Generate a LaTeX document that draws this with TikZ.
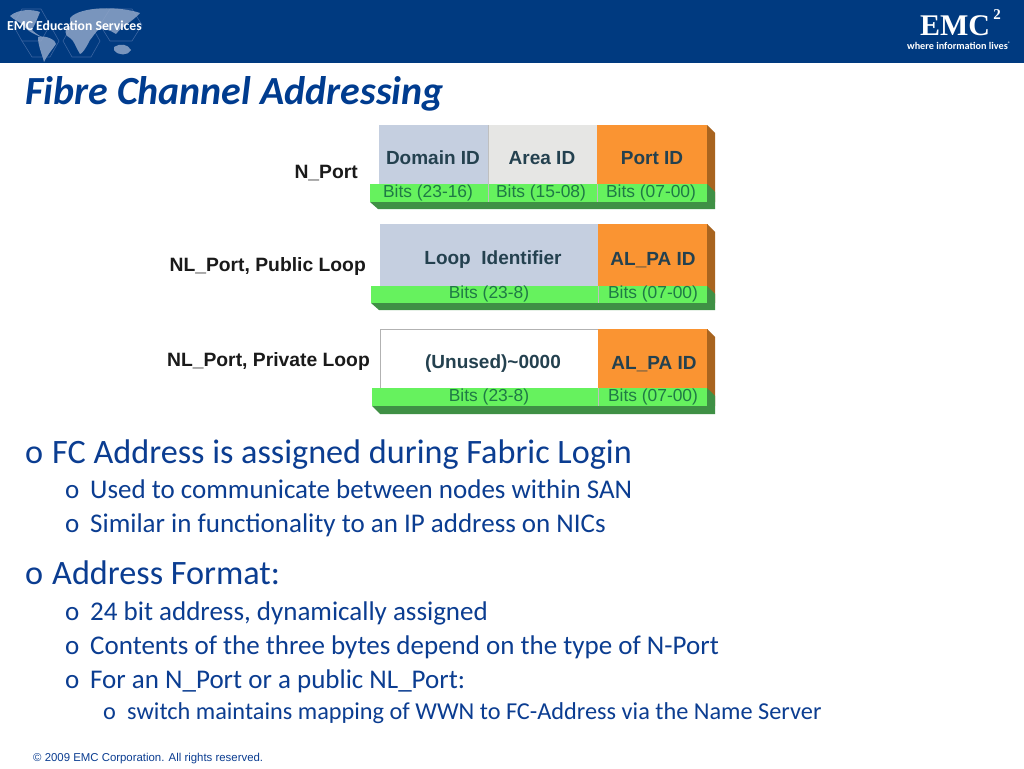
\documentclass[tikz,border=0pt]{standalone}
\usepackage{fontspec}
\setmainfont{Carlito}
\newfontfamily\arialf{Liberation Sans}
\definecolor{emcblue}{HTML}{003A80}
\definecolor{txtblue}{HTML}{0B3D91}
\definecolor{titleblue}{HTML}{003C8F}
\definecolor{fieldblue}{HTML}{C5CFE0}
\definecolor{fieldgrey}{HTML}{E6E6E4}
\definecolor{fieldor}{HTML}{FA9432}
\definecolor{darkor}{HTML}{A8641F}
\definecolor{fieldgr}{HTML}{66F25E}
\definecolor{darkgr}{HTML}{3F9045}
\definecolor{bitgr}{HTML}{1F7A45}
\definecolor{lblack}{HTML}{1A1A1A}
\definecolor{fieldtxt}{HTML}{24414F}
\definecolor{maplight}{HTML}{8FA5C8}
\definecolor{hexline}{HTML}{3A64A0}
\tikzset{
  x=1pt,y=-1pt,
  lvlone/.style={anchor=base west,inner sep=0pt,text=txtblue,font=\fontsize{34.2}{40}\selectfont},
  lvltwo/.style={anchor=base west,inner sep=0pt,text=txtblue,font=\fontsize{27}{32}\selectfont},
  lvlthree/.style={anchor=base west,inner sep=0pt,text=txtblue,font=\fontsize{24.3}{29}\selectfont},
  fieldlab/.style={inner sep=0pt,text=fieldtxt,font=\arialf\bfseries\fontsize{19}{23}\selectfont},
  bitlab/.style={inner sep=0pt,text=bitgr,font=\arialf\fontsize{17.4}{21}\selectfont},
  rowlab/.style={anchor=east,inner sep=0pt,text=lblack,font=\arialf\bfseries\fontsize{19.3}{23}\selectfont},
  sepline/.style={draw=black!25,line width=.6pt},
  landmass/.style={fill=maplight,opacity=.85},
  hexcell/.style={draw=hexline,line width=.6pt},
}
% #1 top, #2 bottom of field, #3 bottom of green, #4 bottom of shadow, #5 left
\newcommand{\barbase}[5]{%
  \fill[darkor] (707,#1) -- (715,#1+8) -- (715,#3) -- (707,#3) -- cycle;
  \fill[darkgr] (#5,#3) -- (#5+8,#4) -- (715,#4) -- (715,#2+8) -- (707,#2) -- (707,#3) -- cycle;
  \fill[fieldgr] (#5,#2) rectangle (707,#3);
}
\begin{document}
\begin{tikzpicture}
\useasboundingbox (0,0) rectangle (1024,768);
\fill[white] (0,0) rectangle (1024,768);
% header
\fill[emcblue] (0,0) rectangle (1024,63);
% world map
\draw[hexcell] (13,25) -- (22,9) -- (41,9) -- (50,25) -- (41,41) -- (22,41) -- cycle;
\draw[hexcell] (50,25) -- (59,41) -- (50,57) -- (32,57) -- (22,41);
\draw[hexcell] (63,41) -- (72,25) -- (91,25) -- (100,41) -- (91,57) -- (72,57) -- cycle;
\draw[hexcell] (100,25) -- (110,9) -- (132,9) -- (142,25) -- (132,41) -- (110,41) -- cycle;
\fill[landmass] (10,16) .. controls (18,9) and (32,9) .. (40,12) .. controls (37,20) and (34,26) .. (32,30) .. controls (36,34) and (40,36) .. (44,38) .. controls (38,36) and (28,32) .. (24,26) .. controls (20,22) and (14,20) .. (10,16) -- cycle;
\fill[landmass] (38,37) .. controls (46,35) and (56,40) .. (56,44) .. controls (52,50) and (48,54) .. (44,62) .. controls (42,54) and (38,46) .. (38,37) -- cycle;
\fill[landmass] (70,18) .. controls (80,6) and (120,6) .. (140,13) .. controls (132,22) and (122,26) .. (116,34) .. controls (110,30) and (104,28) .. (98,30) .. controls (94,34) and (92,38) .. (90,40) .. controls (86,48) and (82,54) .. (80,54) .. controls (76,48) and (74,40) .. (70,38) .. controls (64,36) and (64,28) .. (70,26) -- cycle;
\fill[landmass] (114,47) .. controls (120,43) and (128,44) .. (131,50) .. controls (128,56) and (118,56) .. (114,50) -- cycle;
\node[anchor=west,inner sep=0pt,text=white,font=\bfseries\fontsize{13.7}{16}\selectfont] (edu) at (7,26) {EMC Education Services};
\node[inner sep=0pt,text=white,font=\fontspec{Liberation Serif}\bfseries\fontsize{30}{34}\selectfont] (emc) at (955,26) {EMC};
\node[inner sep=0pt,text=white,font=\fontspec{Liberation Serif}\bfseries\fontsize{15}{17}\selectfont] (sq) at (997,15) {2};
\node[inner sep=0pt,text=white,font=\bfseries\fontsize{10.2}{12}\selectfont] (tag) at (959,46) {where information lives\textsuperscript{\tiny ®}};
% title
\node[anchor=base west,inner sep=0pt,text=titleblue,font=\bfseries\itshape\fontsize{39.9}{46}\selectfont] (title) at (25,104) {Fibre Channel Addressing};
% row 1
\fill[fieldblue] (379,125) rectangle (488,184);
\fill[fieldgrey] (488,125) rectangle (597,184);
\fill[fieldor] (597,125) rectangle (707,184);
\barbase{125}{184}{202}{209}{370}
\draw[sepline] (488,125) -- (488,202);
\draw[sepline] (597,184) -- (597,202);
\node[fieldlab] (f11) at (433,158) {Domain ID};
\node[fieldlab] (f12) at (542,158) {Area ID};
\node[fieldlab] (f13) at (652,158) {Port ID};
\node[bitlab] (b11) at (428,193) {Bits (23-16)};
\node[bitlab] (b12) at (541,193) {Bits (15-08)};
\node[bitlab] (b13) at (651,193) {Bits (07-00)};
\node[rowlab] (r1) at (358,173.5) {N\_Port};
% row 2
\fill[fieldblue] (380,224) rectangle (598,286);
\fill[fieldor] (598,224) rectangle (708,286);
\barbase{224}{286}{303}{310}{371}
\draw[sepline] (598,286) -- (598,303);
\node[fieldlab] (f21) at (493,260) {Loop~ Identifier};
\node[fieldlab] (f22) at (653,260) {AL\_PA ID};
\node[bitlab] (b21) at (489,294) {Bits (23-8)};
\node[bitlab] (b22) at (653,294) {Bits (07-00)};
\node[rowlab] (r2) at (366,266.5) {NL\_Port, Public Loop};
% row 3
\draw[draw=black!30,fill=white,line width=.6pt] (380,329) rectangle (598,388);
\fill[fieldor] (598,329) rectangle (708,388);
\barbase{329}{388}{406}{414}{372}
\draw[sepline] (598,388) -- (598,406);
\node[fieldlab,text=fieldtxt] (f31) at (493,364) {(Unused)\textasciitilde0000};
\node[fieldlab] (f32) at (654,364) {AL\_PA ID};
\node[bitlab] (b31) at (489,397) {Bits (23-8)};
\node[bitlab] (b32) at (653,397) {Bits (07-00)};
\node[rowlab] (r3) at (370,361.5) {NL\_Port, Private Loop};
% bullets
\node[lvlone] (m1) at (25,463) {o};
\node[lvlone] (t1) at (52,463) {FC Address is assigned during Fabric Login};
\node[lvltwo] (m2) at (65,498.5) {o};
\node[lvltwo] (t2) at (90,498.5) {Used to communicate between nodes within SAN};
\node[lvltwo] (m3) at (65,532.5) {o};
\node[lvltwo] (t3) at (90,532.5) {Similar in functionality to an IP address on NICs};
\node[lvlone] (m4) at (25,584.5) {o};
\node[lvlone] (t4) at (52,584.5) {Address Format:};
\node[lvltwo] (m5) at (65,620.5) {o};
\node[lvltwo] (t5) at (90,620.5) {24 bit address, dynamically assigned};
\node[lvltwo] (m6) at (65,654.5) {o};
\node[lvltwo] (t6) at (90,654.5) {Contents of the three bytes depend on the type of N-Port};
\node[lvltwo] (m7) at (65,688.5) {o};
\node[lvltwo] (t7) at (90,688.5) {For an N\_Port or a public NL\_Port:};
\node[lvlthree] (m8) at (103,719.5) {o};
\node[lvlthree] (t8) at (127,719.5) {switch maintains mapping of WWN to FC-Address via the Name Server};
% footer
\node[anchor=base west,inner sep=0pt,text=txtblue,font=\arialf\fontsize{11.4}{13}\selectfont] (foot) at (33,761) {© 2009 EMC Corporation. All rights reserved.};
\end{tikzpicture}
\end{document}
